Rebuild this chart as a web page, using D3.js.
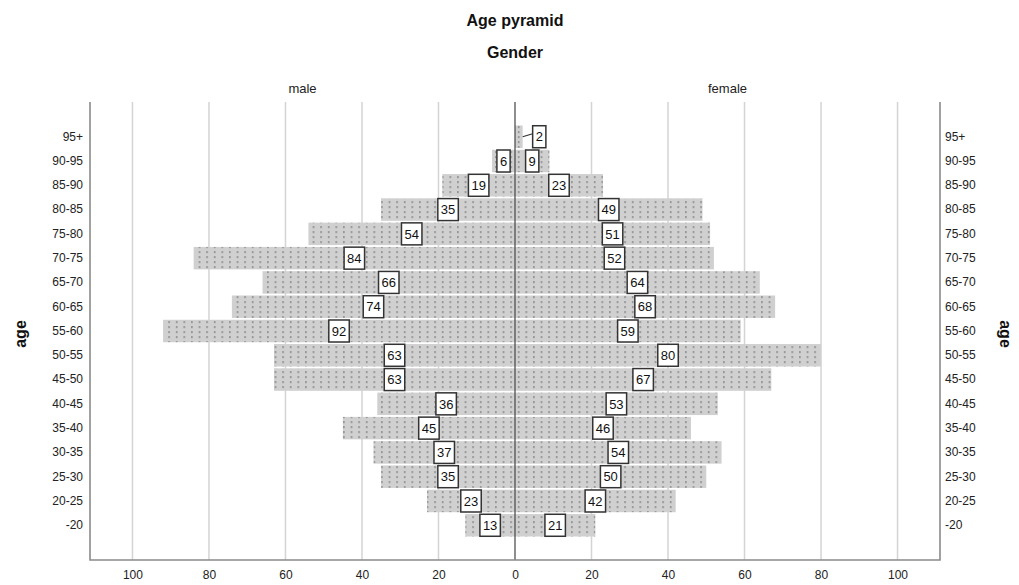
<!DOCTYPE html>
<html>
<head>
<meta charset="utf-8">
<script src="https://cdn.jsdelivr.net/npm/d3@7"></script>
<style>
  html, body { margin: 0; padding: 0; background: #fff; }
  svg { display: block; font-family: "Liberation Sans", Arial, sans-serif; }
</style>
</head>
<body>
<svg id="chart" width="1019" height="585"></svg>
<script>
const categories = ["95+","90-95","85-90","80-85","75-80","70-75","65-70","60-65","55-60","50-55","45-50","40-45","35-40","30-35","25-30","20-25","-20"];
const maleValues = [0,6,19,35,54,84,66,74,92,63,63,36,45,37,35,23,13];
const femaleValues = [2,9,23,49,51,52,64,68,59,80,67,53,46,54,50,42,21];
const tickValues = [0,20,40,60,80,100];
const panelLabels = ["male","female"];

const svg = d3.select("#chart");
const frameTop = 102, frameBottom = 560, left = 90, right = 940, center = 515;
const xMax = 111.1;

const xMale = d3.scaleLinear().domain([0, xMax]).range([center, left]);
const xFemale = d3.scaleLinear().domain([0, xMax]).range([center, right]);
const y = d3.scaleBand().domain(categories).range([125.5, 536.5]).paddingInner(0.075);

// pattern
const defs = svg.append("defs");
const pat = defs.append("pattern").attr("id","dots").attr("patternUnits","userSpaceOnUse")
  .attr("width",7.6).attr("height",5).attr("x", center);
pat.append("rect").attr("width",7.6).attr("height",5).attr("fill","#d0d0d0");
pat.append("rect").attr("x",3).attr("y",1).attr("width",1.4).attr("height",2.2).attr("fill","#8c8c8c");

// titles
svg.append("text").attr("x", center).attr("y", 26).attr("text-anchor","middle")
  .attr("font-size",16).attr("font-weight","bold").attr("fill","#111").text("Age pyramid");
svg.append("text").attr("x", center).attr("y", 58).attr("text-anchor","middle")
  .attr("font-size",16).attr("font-weight","bold").attr("fill","#111").text("Gender");
svg.append("text").attr("x", (left+center)/2).attr("y", 93).attr("text-anchor","middle")
  .attr("font-size",13).attr("fill","#222").text(panelLabels[0]);
svg.append("text").attr("x", (center+right)/2).attr("y", 93).attr("text-anchor","middle")
  .attr("font-size",13).attr("fill","#222").text(panelLabels[1]);

// gridlines
const grid = svg.append("g");
tickValues.filter(d => d > 0).forEach(v => {
  [xMale(v), xFemale(v)].forEach(px => {
    grid.append("line").attr("x1",px).attr("x2",px).attr("y1",frameTop).attr("y2",frameBottom)
      .attr("stroke","#d4d4d4").attr("stroke-width",1.5);
  });
});

// bars
const rows = categories.map((c,i) => ({cat:c, m:maleValues[i], f:femaleValues[i]}));
svg.append("g").selectAll("rect.m").data(rows.filter(d => d.m > 0)).join("rect")
  .attr("x", d => xMale(d.m)).attr("width", d => xMale(0) - xMale(d.m))
  .attr("y", d => y(d.cat)).attr("height", y.bandwidth()).attr("fill","url(#dots)");
svg.append("g").selectAll("rect.f").data(rows.filter(d => d.f > 0)).join("rect")
  .attr("x", xFemale(0)).attr("width", d => xFemale(d.f) - xFemale(0))
  .attr("y", d => y(d.cat)).attr("height", y.bandwidth()).attr("fill","url(#dots)");

// center line
svg.append("line").attr("x1",center).attr("x2",center).attr("y1",frameTop).attr("y2",frameBottom)
  .attr("stroke","#444").attr("stroke-width",1.2);

// frame
svg.append("path").attr("d", `M${left},${frameTop}V${frameBottom}H${right}V${frameTop}`)
  .attr("fill","none").attr("stroke","#8a8a8a").attr("stroke-width",1.6);

// bottom axis labels via d3 axes
const axM = d3.axisBottom(xMale).tickValues(tickValues).tickSize(0).tickPadding(10);
const axF = d3.axisBottom(xFemale).tickValues(tickValues.filter(d=>d>0)).tickSize(0).tickPadding(10);
[axM, axF].forEach(ax => {
  const g = svg.append("g").attr("transform", `translate(0,${frameBottom})`).call(ax);
  g.select(".domain").remove();
  g.selectAll("text").attr("font-size",12).attr("fill","#222")
    .attr("font-family","Liberation Sans, Arial, sans-serif");
});

// category labels
const axL = d3.axisLeft(y).tickSize(0).tickPadding(7);
const gl = svg.append("g").attr("transform", `translate(${left},0)`).call(axL);
gl.select(".domain").remove();
gl.selectAll("text").attr("font-size",12).attr("fill","#222").attr("font-family","Liberation Sans, Arial, sans-serif");
const axR = d3.axisRight(y).tickSize(0).tickPadding(5);
const gr = svg.append("g").attr("transform", `translate(${right},0)`).call(axR);
gr.select(".domain").remove();
gr.selectAll("text").attr("font-size",12).attr("fill","#222").attr("font-family","Liberation Sans, Arial, sans-serif");

// axis titles
const midY = (frameTop + frameBottom)/2 + 3;
svg.append("text").attr("transform", `translate(26,${midY}) rotate(-90)`).attr("text-anchor","middle")
  .attr("font-size",16).attr("font-weight","bold").attr("fill","#111").text("age");
svg.append("text").attr("transform", `translate(1000,${midY}) rotate(90)`).attr("text-anchor","middle")
  .attr("font-size",16).attr("font-weight","bold").attr("fill","#111").text("age");

// value labels
const lab = svg.append("g");
function addLabel(v, cat, scale, dir) {
  if (v <= 0) return;
  const cy = y(cat) + y.bandwidth()/2;
  const barEnd = scale(v);
  let cx = (scale(0) + barEnd)/2;
  const g = lab.append("g");
  const t = g.append("text").attr("text-anchor","middle").attr("font-size",13).attr("fill","#111")
    .attr("dy","0.36em").text(v);
  const tw = t.node().getComputedTextLength();
  const bw = tw + 6, bh = 22;
  const barW = Math.abs(barEnd - scale(0));
  if (barW < bw) {
    const bx = barEnd + dir*10;
    cx = bx + dir*bw/2;
    g.insert("line","text").attr("x1", barEnd).attr("y1", cy).attr("x2", bx).attr("y2", cy - 3)
      .attr("stroke","#333").attr("stroke-width",1.2);
  }
  g.insert("rect","text").attr("x", cx - bw/2).attr("y", cy - bh/2).attr("width", bw).attr("height", bh)
    .attr("fill","#fff").attr("stroke","#333").attr("stroke-width",1.5);
  t.attr("x", cx).attr("y", cy);
}
rows.forEach(d => {
  addLabel(d.m, d.cat, xMale, -1);
  addLabel(d.f, d.cat, xFemale, 1);
});
</script>
</body>
</html>
